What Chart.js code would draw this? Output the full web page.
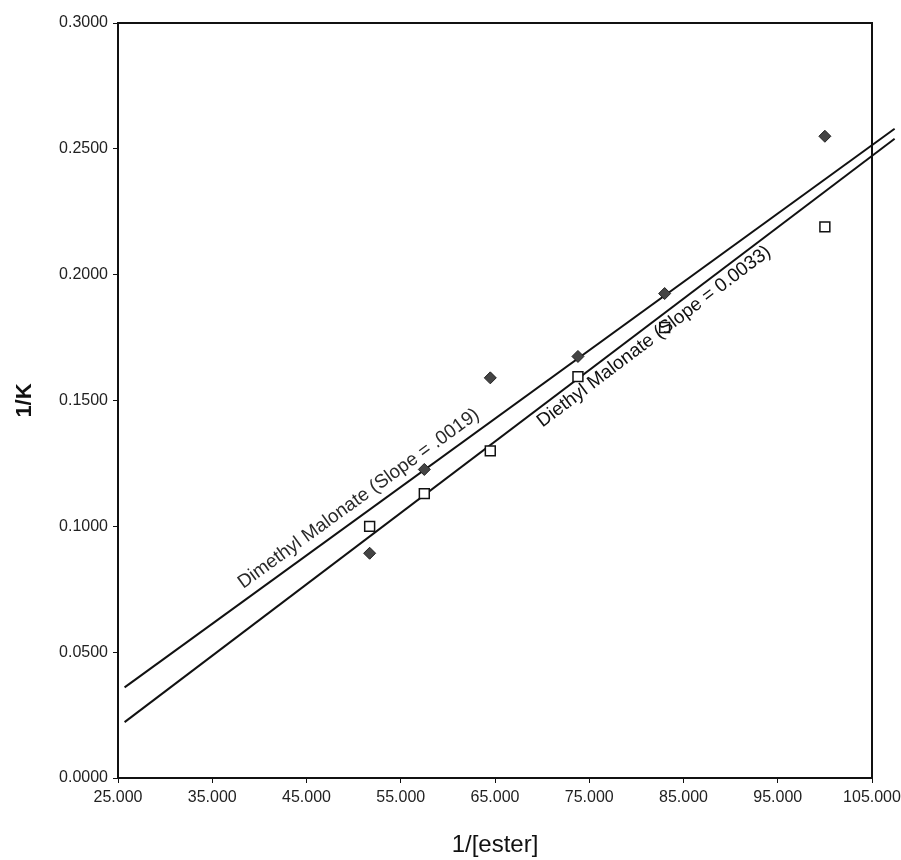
<!DOCTYPE html>
<html>
<head>
<meta charset="utf-8">
<title>1/K vs 1/[ester]</title>
<script src="https://cdn.jsdelivr.net/npm/chart.js@4.4.1/dist/chart.umd.min.js"></script>
<style>
  html, body { margin: 0; padding: 0; background: #fff; }
  #wrap { width: 901px; height: 860px; }
</style>
</head>
<body>
<div id="wrap"><canvas id="chart" width="901" height="860"></canvas></div>
<script>
const esterX = [51.7, 57.5, 64.5, 73.8, 83.0, 100.0];
const dimethylK = [0.0893, 0.1226, 0.1590, 0.1675, 0.1925, 0.2550];
const diethylK = [0.1000, 0.1130, 0.1300, 0.1595, 0.1790, 0.2190];

// fitted lines, two end points each
const fitX = [25.7, 107.4];
const dimethylFit = [0.0360, 0.2580];
const diethylFit = [0.0222, 0.2540];

const xTicks = [25, 35, 45, 55, 65, 75, 85, 95, 105];
const yTicks = [0, 0.05, 0.10, 0.15, 0.20, 0.25, 0.30];

const dimethylLabel = 'Dimethyl Malonate (Slope = .0019)';
const diethylLabel = 'Diethyl Malonate (Slope = 0.0033)';

const FONT = '"Liberation Sans", Arial, sans-serif';

function pts(xs, ys) {
  return xs.map((x, i) => ({ x: x, y: ys[i] }));
}

// box round the plot area
const frame = {
  id: 'frame',
  afterDraw(chart) {
    const a = chart.chartArea, ctx = chart.ctx;
    ctx.save();
    ctx.strokeStyle = '#111';
    ctx.lineWidth = 2;
    ctx.strokeRect(a.left, a.top, a.right - a.left, a.bottom - a.top);
    ctx.restore();
  }
};

// text running along a fit line
const lineLabels = {
  id: 'lineLabels',
  afterDatasetsDraw(chart) {
    const xs = chart.scales.x, ys = chart.scales.y, ctx = chart.ctx;
    const items = [
      { ys: dimethylFit, at: 38.9, off: -10, base: 'alphabetic', text: dimethylLabel, color: '#2a2a2a' },
      { ys: diethylFit, at: 68.9, off: 3, base: 'top', text: diethylLabel, color: '#111' }
    ];
    items.forEach(it => {
      const x0 = xs.getPixelForValue(fitX[0]), y0 = ys.getPixelForValue(it.ys[0]);
      const x1 = xs.getPixelForValue(fitX[1]), y1 = ys.getPixelForValue(it.ys[1]);
      const ang = Math.atan2(y1 - y0, x1 - x0);
      const t = (it.at - fitX[0]) / (fitX[1] - fitX[0]);
      const px = x0 + (x1 - x0) * t, py = y0 + (y1 - y0) * t;
      ctx.save();
      ctx.translate(px, py);
      ctx.rotate(ang);
      ctx.font = '19px ' + FONT;
      ctx.fillStyle = it.color;
      ctx.textAlign = 'left';
      ctx.textBaseline = it.base;
      ctx.fillText(it.text, 0, it.off);
      ctx.restore();
    });
  }
};

new Chart(document.getElementById('chart'), {
  type: 'scatter',
  data: {
    datasets: [
      {
        label: 'Dimethyl Malonate',
        data: pts(esterX, dimethylK),
        pointStyle: 'rectRot',
        pointRadius: 6,
        backgroundColor: '#444',
        borderColor: '#222',
        borderWidth: 1
      },
      {
        label: 'Diethyl Malonate',
        data: pts(esterX, diethylK),
        pointStyle: 'rect',
        pointRadius: 7,
        backgroundColor: '#fff',
        borderColor: '#111',
        borderWidth: 1.5
      },
      {
        label: 'Dimethyl fit',
        type: 'line',
        data: pts(fitX, dimethylFit),
        borderColor: '#111',
        borderWidth: 2,
        pointRadius: 0,
        fill: false,
        clip: false
      },
      {
        label: 'Diethyl fit',
        type: 'line',
        data: pts(fitX, diethylFit),
        borderColor: '#111',
        borderWidth: 2,
        pointRadius: 0,
        fill: false,
        clip: false
      }
    ]
  },
  options: {
    responsive: false,
    animation: false,
    devicePixelRatio: 1,
    layout: { padding: { left: 0, right: 0, top: 23, bottom: 0 } },
    plugins: {
      legend: { display: false },
      tooltip: { enabled: false }
    },
    scales: {
      x: {
        type: 'linear',
        min: xTicks[0],
        max: xTicks[xTicks.length - 1],
        afterBuildTicks(scale) { scale.ticks = xTicks.map(v => ({ value: v })); },
        afterFit(scale) { scale.height = 82; scale.paddingRight = 29; },
        border: { display: false },
        grid: { display: true, drawOnChartArea: false, color: '#111', tickLength: 5 },
        ticks: {
          color: '#222',
          font: { family: FONT, size: 16 },
          padding: 5,
          maxRotation: 0,
          callback: v => Number(v).toFixed(3)
        },
        title: {
          display: true,
          text: '1/[ester]',
          color: '#111',
          font: { family: FONT, size: 24 },
          padding: { top: 6, bottom: 0 }
        }
      },
      y: {
        type: 'linear',
        min: yTicks[0],
        max: yTicks[yTicks.length - 1],
        afterBuildTicks(scale) { scale.ticks = yTicks.map(v => ({ value: v })); },
        afterFit(scale) { scale.width = 118; },
        border: { display: false },
        grid: { display: true, drawOnChartArea: false, color: '#111', tickLength: 5 },
        ticks: {
          color: '#222',
          font: { family: FONT, size: 16 },
          padding: 5,
          callback: v => Number(v).toFixed(4)
        },
        title: {
          display: true,
          text: '1/K',
          color: '#111',
          font: { family: FONT, size: 22, weight: 'bold' },
          padding: { top: 12, bottom: 12 }
        }
      }
    }
  },
  plugins: [frame, lineLabels]
});
</script>
</body>
</html>
